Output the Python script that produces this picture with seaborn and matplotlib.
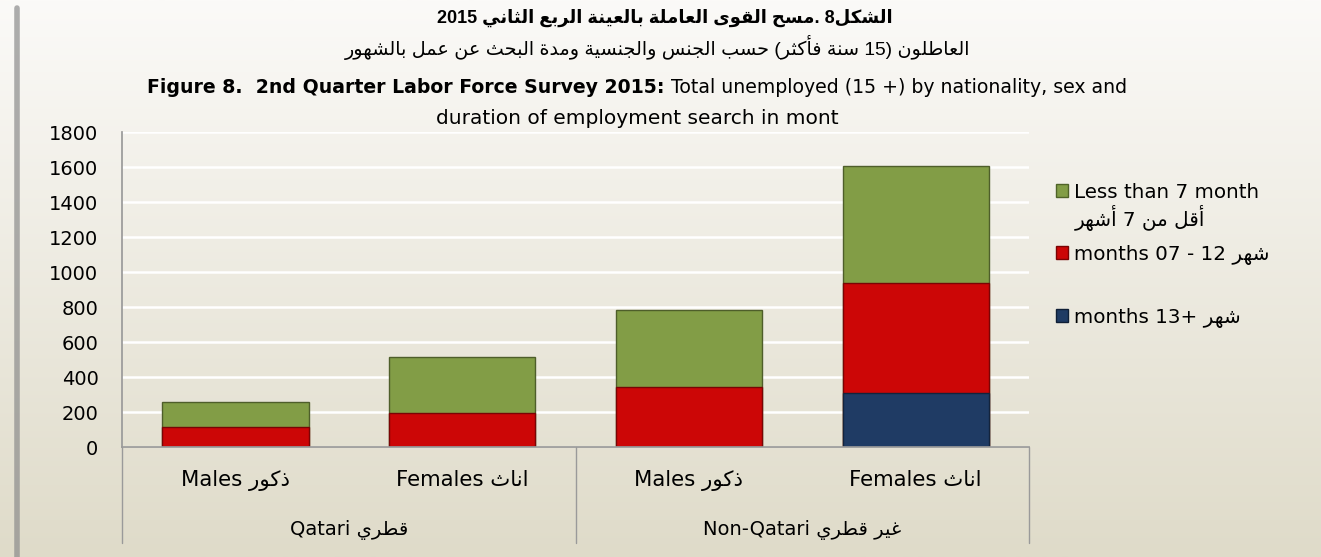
import re
import numpy as np
import pandas as pd
import matplotlib
matplotlib.use("Agg")
import matplotlib.pyplot as plt
import seaborn as sns
from matplotlib.patches import Patch

# data
categories = ["Qatari Males", "Qatari Females", "Non-Qatari Males", "Non-Qatari Females"]
less_than_7 = [140, 321, 439, 666]
months_7_12 = [118, 194, 346, 632]
months_13_plus = [0, 0, 0, 309]

sex_en = ["Males", "Females", "Males", "Females"]
sex_ar = ["ذكور", "اناث", "ذكور", "اناث"]
groups_en = ["Qatari", "Non-Qatari"]
groups_ar = ["قطري", "غير قطري"]
yticks = [0, 200, 400, 600, 800, 1000, 1200, 1400, 1600, 1800]

title_ar1 = "الشكل8 .مسح القوى العاملة بالعينة الربع الثاني 2015"
title_ar2 = "العاطلون (15 سنة فأكثر) حسب الجنس والجنسية ومدة البحث عن عمل بالشهور"
title_en_bold = "Figure 8.  2nd Quarter Labor Force Survey 2015:"
title_en_rest = " Total unemployed (15 +) by nationality, sex and"
title_en_2 = "duration of employment search in mont"

legend_en = ["Less than 7 month", "months 07 - 12 ", "months 13+ "]
legend_ar = ["أقل من 7 أشهر", "شهر", "شهر"]

colors = {"green": "#829d46", "red": "#cc0606", "blue": "#1f3b64"}

# --- minimal Arabic shaping, matplotlib has no RTL layout ---
DUAL = {'ئ': 0xFE89, 'ب': 0xFE8F, 'ت': 0xFE95, 'ث': 0xFE99, 'ج': 0xFE9D, 'ح': 0xFEA1,
        'خ': 0xFEA5, 'س': 0xFEB1, 'ش': 0xFEB5, 'ص': 0xFEB9, 'ض': 0xFEBD, 'ط': 0xFEC1,
        'ظ': 0xFEC5, 'ع': 0xFEC9, 'غ': 0xFECD, 'ف': 0xFED1, 'ق': 0xFED5, 'ك': 0xFED9,
        'ل': 0xFEDD, 'م': 0xFEE1, 'ن': 0xFEE5, 'ه': 0xFEE9, 'ي': 0xFEF1}
RIGHT = {'آ': 0xFE81, 'أ': 0xFE83, 'ؤ': 0xFE85, 'إ': 0xFE87, 'ا': 0xFE8D, 'ة': 0xFE93,
         'د': 0xFEA9, 'ذ': 0xFEAB, 'ر': 0xFEAD, 'ز': 0xFEAF, 'و': 0xFEED, 'ى': 0xFEEF}
LAM_ALEF = {'آ': 0xFEF5, 'أ': 0xFEF7, 'إ': 0xFEF9, 'ا': 0xFEFB}


def shape(text):
    toks = []
    i = 0
    while i < len(text):
        if text[i] == 'ل' and i + 1 < len(text) and text[i + 1] in LAM_ALEF:
            toks.append(('LA', text[i + 1]))
            i += 2
        else:
            toks.append(('C', text[i]))
            i += 1
    out = []
    for k, (kind, c) in enumerate(toks):
        prev_j = k > 0 and toks[k - 1][0] == 'C' and toks[k - 1][1] in DUAL
        next_j = k + 1 < len(toks) and (toks[k + 1][0] == 'LA' or toks[k + 1][1] in DUAL or toks[k + 1][1] in RIGHT)
        if kind == 'LA':
            out.append(chr(LAM_ALEF[c] + (1 if prev_j else 0)))
        elif c in DUAL:
            f = 3 if (prev_j and next_j) else 1 if prev_j else 2 if next_j else 0
            out.append(chr(DUAL[c] + f))
        elif c in RIGHT:
            out.append(chr(RIGHT[c] + (1 if prev_j else 0)))
        else:
            out.append(c)
    return ''.join(out)


def ar(text):
    s = shape(text)[::-1]
    s = ''.join({'(': ')', ')': '('}.get(c, c) for c in s)
    return re.sub(r'[0-9]+', lambda m: m.group(0)[::-1], s)


sns.set_theme(style="white")
plt.rcParams['font.family'] = ['DejaVu Sans']
plt.rcParams['text.color'] = 'black'
plt.rcParams['xtick.color'] = 'black'
plt.rcParams['ytick.color'] = 'black'

df = pd.DataFrame({
    "category": categories,
    "blue": months_13_plus,
    "red": np.array(months_13_plus) + np.array(months_7_12),
    "green": np.array(months_13_plus) + np.array(months_7_12) + np.array(less_than_7),
})

fig = plt.figure(figsize=(13.21, 5.57), dpi=100)

# background gradient
bg = fig.add_axes([0, 0, 1, 1], zorder=-10)
grad = np.linspace(0, 1, 256).reshape(-1, 1)
top = np.array(matplotlib.colors.to_rgb("#fbfaf8"))
bot = np.array(matplotlib.colors.to_rgb("#dfdbc9"))
img = top + (bot - top) * grad[:, :, None]
bg.imshow(img, aspect='auto', extent=[0, 1, 0, 1])
bg.plot([0.0125, 0.0125], [0, 0.985], color="#8c8c8c", lw=4, alpha=0.7)
bg.set_xlim(0, 1)
bg.set_ylim(0, 1)
bg.axis('off')

ax = fig.add_axes([0.0924, 0.197, 0.6866, 0.5655])
ax.patch.set_alpha(0)

for key in ["green", "red", "blue"]:
    sns.barplot(data=df, x="category", y=key, order=categories, color=colors[key],
                saturation=1, width=0.645, errorbar=None, ax=ax,
                edgecolor=matplotlib.colors.to_hex(np.array(matplotlib.colors.to_rgb(colors[key])) * 0.6),
                linewidth=1)

ax.set_ylim(0, 1800)
ax.set_xlim(-0.5, 3.5)
ax.set_yticks(yticks)
ax.set_yticklabels([str(v) for v in yticks], fontsize=14)
ax.yaxis.grid(True, color="white", lw=1.8)
ax.set_axisbelow(True)
ax.set_xlabel("")
ax.set_ylabel("")
for s in ["top", "right"]:
    ax.spines[s].set_visible(False)
ax.spines["left"].set_color("#9a9a9a")
ax.spines["bottom"].set_color("#9a9a9a")
ax.tick_params(axis="y", length=0, pad=17, labelcolor="black")
ax.tick_params(axis="x", length=0, pad=16.5, labelcolor="black")
ax.set_xticks(range(4))
ax.set_xticklabels([f"{e} {ar(a)}" for e, a in zip(sex_en, sex_ar)], fontsize=15.3)

# group labels and separators
for xv in [-0.5, 1.5, 3.5]:
    ax.axvline(xv, ymin=-0.305, ymax=0, color="#9a9a9a", lw=1, clip_on=False)
for gi, (e, a) in enumerate(zip(groups_en, groups_ar)):
    ax.text(gi * 2 + 0.5, -0.262, f"{e} {ar(a)}", transform=ax.get_xaxis_transform(),
            ha="center", va="center", fontsize=14)

# titles
fig.text(0.503, 0.968, ar(title_ar1), ha="center", va="center", fontsize=13,
         fontweight="bold", family=["Liberation Sans", "DejaVu Sans"])
fig.text(0.498, 0.915, ar(title_ar2), ha="center", va="center", fontsize=13.8,
         family=["Liberation Sans", "DejaVu Sans"])
fig.canvas.draw()
r = fig.canvas.get_renderer()
tb = fig.text(0, 0.843, title_en_bold, ha="left", va="center", fontsize=13.6, fontweight="bold")
tr = fig.text(0, 0.843, title_en_rest, ha="left", va="center", fontsize=13.6)
wb = tb.get_window_extent(r).width
wr = tr.get_window_extent(r).width
x0 = 637 - (wb + wr) / 2
tb.set_x(x0 / 1321)
tr.set_x((x0 + wb) / 1321)
fig.text(637 / 1321, 0.788, title_en_2, ha="center", va="center", fontsize=14.5)

# legend: one row per series, the Arabic line of the first entry sits under it
handles = [Patch(facecolor=colors["green"], edgecolor="#4f6328"),
           Patch(facecolor=colors["red"], edgecolor="#7a0303"),
           Patch(facecolor=colors["blue"], edgecolor="#0f1f36")]
labels = [legend_en[0],
          legend_en[1] + ar(legend_ar[1]),
          legend_en[2] + ar(legend_ar[2])]
leg = fig.legend(handles, labels, loc="upper left", bbox_to_anchor=(0.7915, 0.69),
                 frameon=False, fontsize=14.3, handlelength=0.65, handleheight=0.65,
                 handletextpad=0.3, labelspacing=2.17, borderpad=0)
fig.canvas.draw()
t0 = leg.get_texts()[0].get_window_extent(r)
fig.text(t0.x0 / 1321, (t0.y0 + t0.y1) / 2 / 557 - 26 / 557, ar(legend_ar[0]),
         ha="left", va="center", fontsize=14.3)

fig.savefig("out.png", dpi=100)
